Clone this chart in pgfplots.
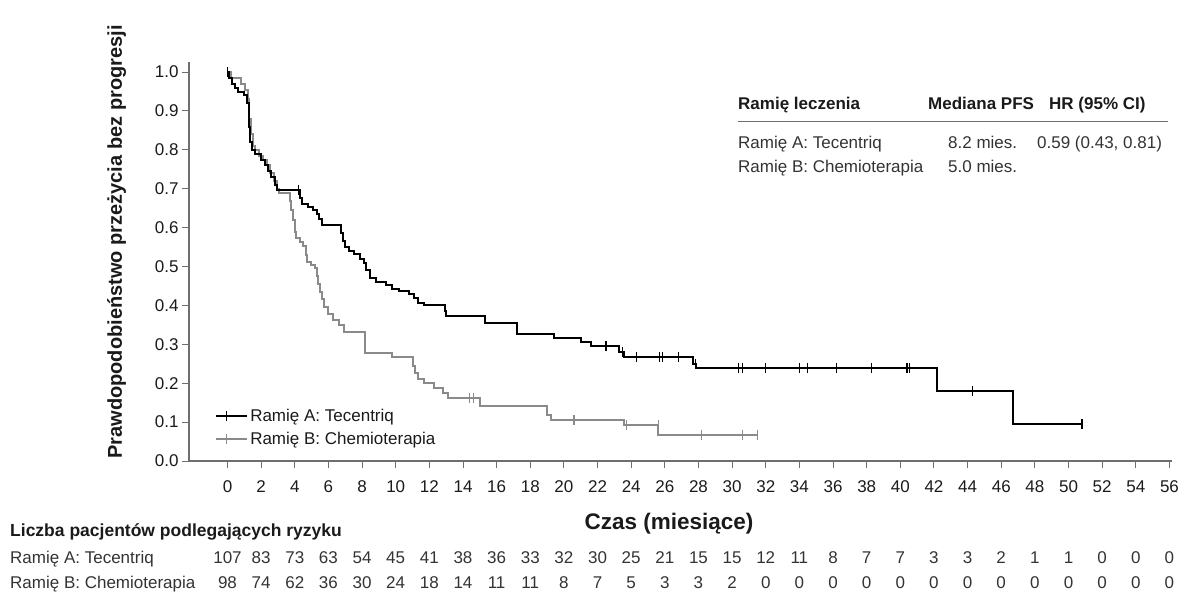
\documentclass[border=0pt]{standalone}
\usepackage{pgfplots}
\pgfplotsset{compat=1.18}
\usetikzlibrary{calc}
\usepackage{fontspec}
\setmainfont{Liberation Sans}

\definecolor{armA}{HTML}{000000}
\definecolor{armB}{HTML}{8A8A8A}
\definecolor{axgray}{HTML}{6E6E6E}
\definecolor{txt}{HTML}{1A1A1A}
\definecolor{rowtxt}{HTML}{333333}

\newcommand\fs{\fontsize{17bp}{20bp}\selectfont}

% Kaplan-Meier curves (time in months, survival probability)
\pgfplotstableread{
t s
0 1.000
0.10 0.985
0.25 0.970
0.45 0.960
0.65 0.950
1.00 0.940
1.15 0.920
1.25 0.900
1.30 0.860
1.35 0.820
1.45 0.800
1.65 0.790
2.00 0.775
2.20 0.762
2.40 0.745
2.60 0.730
2.80 0.710
2.95 0.697
4.30 0.675
4.45 0.660
4.80 0.652
5.10 0.645
5.30 0.635
5.45 0.622
5.60 0.608
6.75 0.585
6.85 0.565
7.00 0.550
7.25 0.540
7.50 0.532
7.85 0.520
8.10 0.510
8.25 0.490
8.50 0.470
8.80 0.460
9.40 0.452
9.75 0.443
10.20 0.437
10.80 0.430
11.10 0.418
11.35 0.407
11.70 0.400
12.90 0.385
13.00 0.373
15.30 0.356
17.20 0.327
19.40 0.317
21.00 0.305
21.60 0.295
23.30 0.280
23.60 0.268
27.70 0.250
27.85 0.238
42.20 0.180
46.70 0.095
50.80 0.095
}\armA

\pgfplotstableread{
t s
0 1.000
4.20 0.697
22.50 0.295
23.50 0.280
24.30 0.268
25.70 0.268
25.85 0.268
26.80 0.268
27.80 0.250
30.40 0.238
30.60 0.238
32.00 0.238
34.00 0.238
34.50 0.238
36.20 0.238
38.30 0.238
40.40 0.238
40.55 0.238
44.30 0.180
50.80 0.095
}\censA

\pgfplotstableread{
t s
0 1.000
0.20 0.985
0.80 0.970
1.05 0.955
1.20 0.930
1.30 0.880
1.40 0.840
1.50 0.810
1.65 0.800
1.90 0.785
2.10 0.775
2.35 0.760
2.55 0.740
2.75 0.720
2.95 0.700
3.05 0.688
3.70 0.668
3.80 0.645
3.90 0.620
4.00 0.590
4.10 0.573
4.30 0.563
4.50 0.552
4.65 0.530
4.75 0.512
4.95 0.505
5.20 0.495
5.30 0.475
5.40 0.455
5.50 0.435
5.60 0.416
5.75 0.395
6.00 0.378
6.30 0.362
6.60 0.350
6.90 0.332
8.20 0.277
9.75 0.267
11.00 0.245
11.15 0.225
11.35 0.210
11.70 0.200
12.30 0.188
12.80 0.175
13.10 0.163
15.00 0.141
19.00 0.118
19.25 0.105
23.60 0.093
25.60 0.068
31.50 0.068
}\armB

\pgfplotstableread{
t s
14.40 0.163
14.60 0.163
20.60 0.105
23.70 0.093
25.60 0.093
28.20 0.068
30.60 0.068
31.50 0.068
}\censB

\begin{document}
\begin{tikzpicture}[font=\fs,text=txt]

\begin{axis}[%
	name=ax, at={(0,0)}, anchor=south west,
	scale only axis, width=983bp, height=399bp,
	xmin=-2.29, xmax=56.15, ymin=0, ymax=1.026,
	axis x line=bottom, axis y line=left,
	axis line style={axgray, line width=1.1bp, -},
	xtick={0,2,...,56},
	ytick={0,0.1,0.2,0.3,0.4,0.5,0.6,0.7,0.8,0.9,1.0},
	tick align=outside, major tick length=7bp,
	tick style={axgray, line width=1bp},
	ticklabel style={font=\fs, text=txt},
	xticklabel style={text height=12bp, text depth=0bp, yshift=-9bp},
	/pgf/number format/assume math mode=true,
	yticklabel style={/pgf/number format/fixed, /pgf/number format/fixed zerofill, /pgf/number format/precision=1},
	clip=false,
	legend style={draw=none, fill=none, inner sep=0pt, at={(axis cs:-0.74,0.086)}, anchor=west, font=\fs, cells={anchor=west}, row sep=5bp},
	legend image code/.code={%
		\path (0bp,0bp) -- (31bp,0bp);
		\draw[#1] (0bp,0bp) -- (20bp,0bp);
		\draw[#1, line width=1.2bp] (10bp,-5bp) -- (10bp,5bp);},
	]

\addlegendimage{armA, line width=2bp}
\addlegendentry{Ramię A: Tecentriq}
\addlegendimage{armB, line width=2bp}
\addlegendentry{Ramię B: Chemioterapia}

% chemotherapy arm first, so the black one sits on top
\addplot [armB, line width=2bp, const plot, mark=none, forget plot] table {\armB};
\addplot [armB, only marks, mark=|, mark size=5bp, mark options={line width=1.2bp}, forget plot] table {\censB};

\addplot [armA, line width=2bp, const plot, mark=none, forget plot] table {\armA};
\addplot [armA, only marks, mark=|, mark size=5bp, mark options={line width=1.2bp}, forget plot] table {\censA};

\end{axis}

% page origin: the axis box sits at (189,135) px from the lower left corner
\coordinate (O) at ($(ax.south west)+(-189bp,-135bp)$);

\begin{scope}[shift={(O)}, x=1bp, y=1bp]
% axis titles
\node[rotate=90, anchor=base, font=\bfseries\fontsize{20bp}{24bp}\selectfont] at (122,354) {Prawdopodobieństwo przeżycia bez progresji};
\node[anchor=base, font=\bfseries\fontsize{22.5bp}{26bp}\selectfont] at (669,67) {Czas (miesiące)};

% median / HR box
\begin{scope}[every node/.style={anchor=base west, inner sep=0pt}]
\node[font=\bfseries\fs] at (738,487) {Ramię leczenia};
\node[font=\bfseries\fs] at (928,487) {Mediana PFS};
\node[font=\bfseries\fs] at (1049,487) {HR (95\% CI)};
\draw[axgray, line width=1bp] (738,475) -- (1168,475);
\node[text=rowtxt] at (738,448) {Ramię A: Tecentriq};
\node[text=rowtxt] at (948,448) {8.2 mies.};
\node[text=rowtxt] at (1037,448) {0.59 (0.43, 0.81)};
\node[text=rowtxt] at (738,424) {Ramię B: Chemioterapia};
\node[text=rowtxt] at (948,424) {5.0 mies.};
\end{scope}

% number at risk
\begin{scope}[every node/.style={anchor=base west, inner sep=0pt}]
\node[font=\bfseries\fontsize{17.5bp}{21bp}\selectfont] at (10,60) {Liczba pacjentów podlegających ryzyku};
\node[text=rowtxt] at (10,33) {Ramię A: Tecentriq};
\node[text=rowtxt] at (10,8) {Ramię B: Chemioterapia};
\end{scope}
\foreach \n [count=\i from 0] in {107,83,73,63,54,45,41,38,36,33,32,30,25,21,15,15,12,11,8,7,7,3,3,2,1,1,0,0,0}
	\node[anchor=base, text=rowtxt] at ({227.5+33.64*\i},33) {\n};
\foreach \n [count=\i from 0] in {98,74,62,36,30,24,18,14,11,11,8,7,5,3,3,2,0,0,0,0,0,0,0,0,0,0,0,0,0}
	\node[anchor=base, text=rowtxt] at ({227.5+33.64*\i},8) {\n};
\end{scope}

\pgfresetboundingbox
\path[use as bounding box] (O) rectangle ++(1188bp,596bp);
\end{tikzpicture}
\end{document}
